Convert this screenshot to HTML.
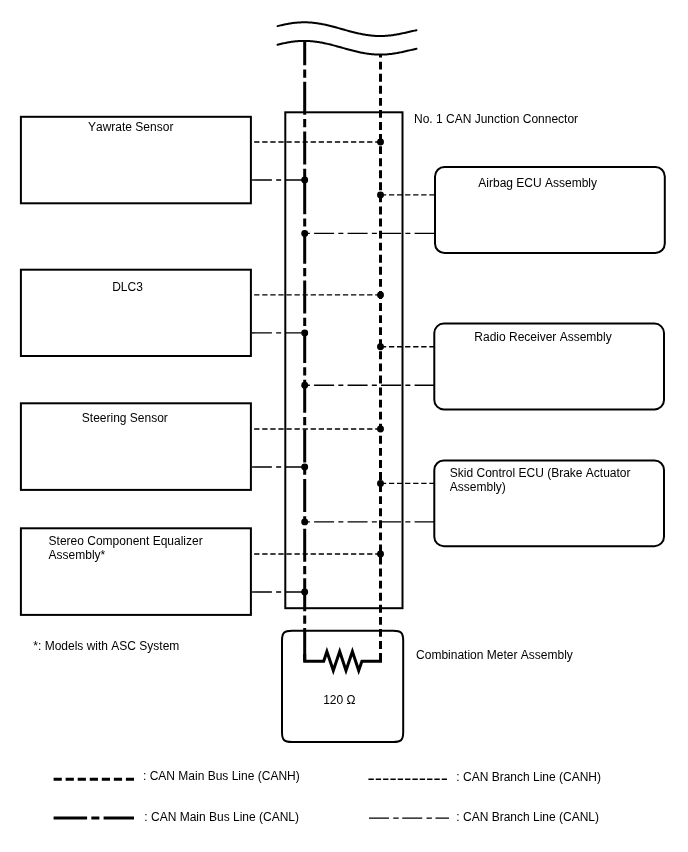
<!DOCTYPE html>
<html><head><meta charset="utf-8"><style>html,body{margin:0;padding:0;background:#fff;width:688px;height:852px;overflow:hidden}svg{display:block;will-change:transform}text{font-family:"Liberation Sans",sans-serif;font-kerning:none}</style></head>
<body><svg width="688" height="852" viewBox="0 0 688 852">
<path d="M277.5,26.10 L278.5,25.86 L279.5,25.62 L280.5,25.39 L281.5,25.16 L282.5,24.94 L283.5,24.72 L284.5,24.51 L285.5,24.30 L286.5,24.11 L287.5,23.92 L288.5,23.74 L289.5,23.57 L290.5,23.40 L291.5,23.25 L292.5,23.11 L293.5,22.98 L294.5,22.86 L295.5,22.75 L296.5,22.65 L297.5,22.57 L298.5,22.49 L299.5,22.43 L300.5,22.38 L301.5,22.34 L302.5,22.32 L303.5,22.30 L304.5,22.30 L305.5,22.31 L306.5,22.33 L307.5,22.36 L308.5,22.41 L309.5,22.46 L310.5,22.53 L311.5,22.61 L312.5,22.70 L313.5,22.81 L314.5,22.92 L315.5,23.04 L316.5,23.18 L317.5,23.32 L318.5,23.48 L319.5,23.64 L320.5,23.82 L321.5,24.00 L322.5,24.19 L323.5,24.39 L324.5,24.60 L325.5,24.81 L326.5,25.03 L327.5,25.26 L328.5,25.50 L329.5,25.74 L330.5,25.99 L331.5,26.24 L332.5,26.50 L333.5,26.76 L334.5,27.03 L335.5,27.30 L336.5,27.57 L337.5,27.85 L338.5,28.12 L339.5,28.40 L340.5,28.68 L341.5,28.96 L342.5,29.25 L343.5,29.53 L344.5,29.81 L345.5,30.09 L346.5,30.36 L347.5,30.64 L348.5,30.91 L349.5,31.18 L350.5,31.45 L351.5,31.72 L352.5,31.97 L353.5,32.23 L354.5,32.48 L355.5,32.72 L356.5,32.96 L357.5,33.19 L358.5,33.42 L359.5,33.63 L360.5,33.84 L361.5,34.05 L362.5,34.24 L363.5,34.43 L364.5,34.60 L365.5,34.77 L366.5,34.93 L367.5,35.08 L368.5,35.22 L369.5,35.34 L370.5,35.46 L371.5,35.57 L372.5,35.66 L373.5,35.75 L374.5,35.82 L375.5,35.88 L376.5,35.93 L377.5,35.97 L378.5,36.00 L379.5,36.01 L380.5,36.02 L381.5,36.01 L382.5,35.99 L383.5,35.96 L384.5,35.91 L385.5,35.86 L386.5,35.79 L387.5,35.71 L388.5,35.62 L389.5,35.52 L390.5,35.41 L391.5,35.29 L392.5,35.15 L393.5,35.01 L394.5,34.86 L395.5,34.70 L396.5,34.53 L397.5,34.35 L398.5,34.16 L399.5,33.97 L400.5,33.77 L401.5,33.56 L402.5,33.35 L403.5,33.13 L404.5,32.91 L405.5,32.68 L406.5,32.46 L407.5,32.23 L408.5,31.99 L409.5,31.76 L410.5,31.53 L411.5,31.30 L412.5,31.08 L413.5,30.85 L414.5,30.64 L415.5,30.42 L416.5,30.22 L416.5,30.22" stroke="#000" stroke-width="2" fill="none" stroke-linecap="round"/>
<path d="M277.5,44.70 L278.5,44.46 L279.5,44.22 L280.5,43.99 L281.5,43.76 L282.5,43.54 L283.5,43.32 L284.5,43.11 L285.5,42.90 L286.5,42.71 L287.5,42.52 L288.5,42.34 L289.5,42.17 L290.5,42.00 L291.5,41.85 L292.5,41.71 L293.5,41.58 L294.5,41.46 L295.5,41.35 L296.5,41.25 L297.5,41.17 L298.5,41.09 L299.5,41.03 L300.5,40.98 L301.5,40.94 L302.5,40.92 L303.5,40.90 L304.5,40.90 L305.5,40.91 L306.5,40.93 L307.5,40.96 L308.5,41.01 L309.5,41.06 L310.5,41.13 L311.5,41.21 L312.5,41.30 L313.5,41.41 L314.5,41.52 L315.5,41.64 L316.5,41.78 L317.5,41.92 L318.5,42.08 L319.5,42.24 L320.5,42.42 L321.5,42.60 L322.5,42.79 L323.5,42.99 L324.5,43.20 L325.5,43.41 L326.5,43.63 L327.5,43.86 L328.5,44.10 L329.5,44.34 L330.5,44.59 L331.5,44.84 L332.5,45.10 L333.5,45.36 L334.5,45.63 L335.5,45.90 L336.5,46.17 L337.5,46.45 L338.5,46.72 L339.5,47.00 L340.5,47.28 L341.5,47.56 L342.5,47.85 L343.5,48.13 L344.5,48.41 L345.5,48.69 L346.5,48.96 L347.5,49.24 L348.5,49.51 L349.5,49.78 L350.5,50.05 L351.5,50.32 L352.5,50.57 L353.5,50.83 L354.5,51.08 L355.5,51.32 L356.5,51.56 L357.5,51.79 L358.5,52.02 L359.5,52.23 L360.5,52.44 L361.5,52.65 L362.5,52.84 L363.5,53.03 L364.5,53.20 L365.5,53.37 L366.5,53.53 L367.5,53.68 L368.5,53.82 L369.5,53.94 L370.5,54.06 L371.5,54.17 L372.5,54.26 L373.5,54.35 L374.5,54.42 L375.5,54.48 L376.5,54.53 L377.5,54.57 L378.5,54.60 L379.5,54.61 L380.5,54.62 L381.5,54.61 L382.5,54.59 L383.5,54.56 L384.5,54.51 L385.5,54.46 L386.5,54.39 L387.5,54.31 L388.5,54.22 L389.5,54.12 L390.5,54.01 L391.5,53.89 L392.5,53.75 L393.5,53.61 L394.5,53.46 L395.5,53.30 L396.5,53.13 L397.5,52.95 L398.5,52.76 L399.5,52.57 L400.5,52.37 L401.5,52.16 L402.5,51.95 L403.5,51.73 L404.5,51.51 L405.5,51.28 L406.5,51.06 L407.5,50.83 L408.5,50.59 L409.5,50.36 L410.5,50.13 L411.5,49.90 L412.5,49.68 L413.5,49.45 L414.5,49.24 L415.5,49.02 L416.5,48.82 L416.5,48.82" stroke="#000" stroke-width="2" fill="none" stroke-linecap="round"/>
<rect x="20.9" y="116.8" width="230.0" height="86.50000000000001" stroke="#000" stroke-width="2" fill="none"/>
<rect x="20.9" y="269.7" width="230.0" height="86.30000000000001" stroke="#000" stroke-width="2" fill="none"/>
<rect x="20.9" y="403.3" width="230.0" height="86.59999999999997" stroke="#000" stroke-width="2" fill="none"/>
<rect x="20.9" y="528.3" width="230.0" height="86.60000000000002" stroke="#000" stroke-width="2" fill="none"/>
<rect x="435.0" y="166.9" width="229.79999999999995" height="86.1" rx="9.5" ry="9.5" stroke="#000" stroke-width="2" fill="none"/>
<rect x="434.3" y="323.6" width="229.7" height="85.79999999999995" rx="9.5" ry="9.5" stroke="#000" stroke-width="2" fill="none"/>
<rect x="434.3" y="460.4" width="229.7" height="85.80000000000007" rx="9.5" ry="9.5" stroke="#000" stroke-width="2" fill="none"/>
<rect x="285.3" y="112.3" width="117.19999999999999" height="495.90000000000003" stroke="#000" stroke-width="2" fill="none"/>
<path d="M292,630.7 L393.2,630.7 C401.2,630.7 403.2,632.7 403.2,640.7 L403.2,732 C403.2,740.0 401.2,742 393.2,742 L292,742 C284.0,742 282,740.0 282,732 L282,640.7 C282,632.7 284.0,630.7 292,630.7 Z" stroke="#000" stroke-width="2" fill="none"/>
<path d="M380.5,142 L251.9,142" stroke="#000" stroke-width="1.4" fill="none" stroke-dasharray="5.3 2.77"/>
<path d="M251.9,180 L304.7,180" stroke="#000" stroke-width="1.4" fill="none" stroke-dasharray="20 4.25 5 4.25"/>
<path d="M380.5,294.9 L251.9,294.9" stroke="#000" stroke-width="1.4" fill="none" stroke-dasharray="5.3 2.77"/>
<path d="M251.9,332.9 L304.7,332.9" stroke="#000" stroke-width="1.4" fill="none" stroke-dasharray="20 4.25 5 4.25"/>
<path d="M380.5,429 L251.9,429" stroke="#000" stroke-width="1.4" fill="none" stroke-dasharray="5.3 2.77"/>
<path d="M251.9,467 L304.7,467" stroke="#000" stroke-width="1.4" fill="none" stroke-dasharray="20 4.25 5 4.25"/>
<path d="M380.5,554 L251.9,554" stroke="#000" stroke-width="1.4" fill="none" stroke-dasharray="5.3 2.77"/>
<path d="M251.9,592 L304.7,592" stroke="#000" stroke-width="1.4" fill="none" stroke-dasharray="20 4.25 5 4.25"/>
<path d="M434.6,194.9 L380.5,194.9" stroke="#000" stroke-width="1.4" fill="none" stroke-dasharray="5.3 2.77"/>
<path d="M434.6,233.4 L304.7,233.4" stroke="#000" stroke-width="1.4" fill="none" stroke-dasharray="20 4.25 5 4.25"/>
<path d="M434.6,346.7 L380.5,346.7" stroke="#000" stroke-width="1.4" fill="none" stroke-dasharray="5.3 2.77"/>
<path d="M434.6,385.25 L304.7,385.25" stroke="#000" stroke-width="1.4" fill="none" stroke-dasharray="20 4.25 5 4.25"/>
<path d="M434.6,483.4 L380.5,483.4" stroke="#000" stroke-width="1.4" fill="none" stroke-dasharray="5.3 2.77"/>
<path d="M434.6,521.9 L304.7,521.9" stroke="#000" stroke-width="1.4" fill="none" stroke-dasharray="20 4.25 5 4.25"/>
<path d="M304.7,661 L304.7,41.5" stroke="#000" stroke-width="3" fill="none" stroke-dasharray="33 4.2 8.2 4.25"/>
<path d="M380.5,661 L380.5,54.5" stroke="#000" stroke-width="3" fill="none" stroke-dasharray="7.9 4.17"/>
<path d="M304.7,654 L304.7,661.3 L323.7,661.3 L326.9,651.5 L333.3,670.5 L339.7,651.5 L346,670.5 L352.4,651.5 L358.7,670.5 L361.9,661.3 L380.5,661.3 L380.5,654" stroke="#000" stroke-width="3" fill="none" stroke-linejoin="miter" stroke-miterlimit="10"/>
<circle cx="380.5" cy="142" r="3.45" fill="#000"/>
<circle cx="304.7" cy="180" r="3.45" fill="#000"/>
<circle cx="380.5" cy="294.9" r="3.45" fill="#000"/>
<circle cx="304.7" cy="332.9" r="3.45" fill="#000"/>
<circle cx="380.5" cy="429" r="3.45" fill="#000"/>
<circle cx="304.7" cy="467" r="3.45" fill="#000"/>
<circle cx="380.5" cy="554" r="3.45" fill="#000"/>
<circle cx="304.7" cy="592" r="3.45" fill="#000"/>
<circle cx="380.5" cy="194.9" r="3.45" fill="#000"/>
<circle cx="304.7" cy="233.4" r="3.45" fill="#000"/>
<circle cx="380.5" cy="346.7" r="3.45" fill="#000"/>
<circle cx="304.7" cy="385.25" r="3.45" fill="#000"/>
<circle cx="380.5" cy="483.4" r="3.45" fill="#000"/>
<circle cx="304.7" cy="521.9" r="3.45" fill="#000"/>
<path d="M53.6,779.2 L134,779.2" stroke="#000" stroke-width="3" stroke-dasharray="8.2 3.85"/>
<path d="M53.6,818.1 L134,818.1" stroke="#000" stroke-width="3" stroke-dasharray="33.5 4.25 8 4.25"/>
<path d="M368.4,779.2 L447,779.2" stroke="#000" stroke-width="1.4" fill="none" stroke-dasharray="5.4 1.93"/>
<path d="M369,818.1 L449,818.1" stroke="#000" stroke-width="1.4" fill="none" stroke-dasharray="20 4.25 5.4 3.6"/>
<text x="88.0" y="130.7" font-family="Liberation Sans, sans-serif" font-size="12" fill="#000">Yawrate Sensor</text>
<text x="414.0" y="122.9" font-family="Liberation Sans, sans-serif" font-size="12" fill="#000">No. 1 CAN Junction Connector</text>
<text x="478.3" y="187.4" font-family="Liberation Sans, sans-serif" font-size="12" fill="#000">Airbag ECU Assembly</text>
<text x="112.2" y="290.7" font-family="Liberation Sans, sans-serif" font-size="12" fill="#000">DLC3</text>
<text x="474.3" y="341.3" font-family="Liberation Sans, sans-serif" font-size="12" fill="#000">Radio Receiver Assembly</text>
<text x="81.8" y="421.8" font-family="Liberation Sans, sans-serif" font-size="12" fill="#000">Steering Sensor</text>
<text x="449.8" y="477" font-family="Liberation Sans, sans-serif" font-size="12" fill="#000">Skid Control ECU (Brake Actuator</text>
<text x="449.8" y="490.6" font-family="Liberation Sans, sans-serif" font-size="12" fill="#000">Assembly)</text>
<text x="48.6" y="544.9" font-family="Liberation Sans, sans-serif" font-size="12" fill="#000">Stereo Component Equalizer</text>
<text x="48.6" y="558.5" font-family="Liberation Sans, sans-serif" font-size="12" fill="#000">Assembly*</text>
<text x="33.3" y="650.1" font-family="Liberation Sans, sans-serif" font-size="12" fill="#000">*: Models with ASC System</text>
<text x="416.1" y="658.8" font-family="Liberation Sans, sans-serif" font-size="12" fill="#000">Combination Meter Assembly</text>
<text x="323.2" y="703.7" font-family="Liberation Sans, sans-serif" font-size="12" fill="#000">120 Ω</text>
<text x="143.0" y="779.95" font-family="Liberation Sans, sans-serif" font-size="12" fill="#000">: CAN Main Bus Line (CANH)</text>
<text x="144.3" y="821.3" font-family="Liberation Sans, sans-serif" font-size="12" fill="#000">: CAN Main Bus Line (CANL)</text>
<text x="456.3" y="780.7" font-family="Liberation Sans, sans-serif" font-size="12" fill="#000">: CAN Branch Line (CANH)</text>
<text x="456.3" y="821.3" font-family="Liberation Sans, sans-serif" font-size="12" fill="#000">: CAN Branch Line (CANL)</text>
</svg></body></html>
